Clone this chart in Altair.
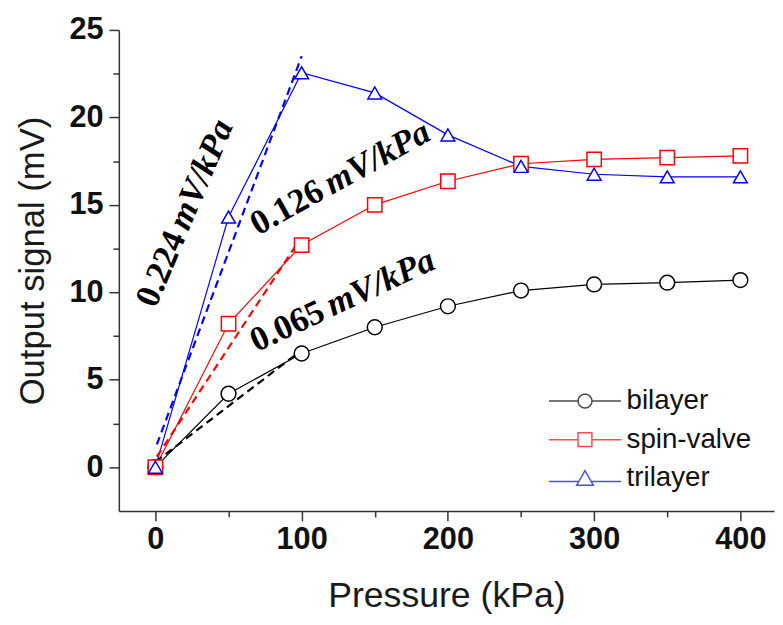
import math
import altair as alt
import pandas as pd

# ---------------- data ----------------
pressure = [0, 50, 100, 150, 200, 250, 300, 350, 400]
bilayer = [0.0, 4.2, 6.5, 8.0, 9.2, 10.1, 10.45, 10.55, 10.7]
spin_valve = [0.0, 8.2, 12.7, 15.0, 16.35, 17.35, 17.6, 17.7, 17.8]
trilayer = [0.0, 14.3, 22.55, 21.4, 19.0, 17.2, 16.75, 16.6, 16.6]

series_names = ["bilayer", "spin-valve", "trilayer"]
series_colors = ["#000000", "#ff0000", "#0000ff"]
series_shapes = ["circle", "square", "triangle-up"]
series_sizes = [225, 196, 272]

# linear-fit (dashed) segments: start and end of each
fit_series = ["bilayer", "bilayer", "spin-valve", "spin-valve", "trilayer", "trilayer"]
fit_pressure = [0, 97, 1, 97, 1, 100]
fit_signal = [0.3, 6.5, 0.6, 12.8, 1.3, 23.5]

# slope annotations
slope_numbers = ["0.224", "0.126", "0.065"]
slope_units = ["mV/kPa", "mV/kPa", "mV/kPa"]
number_pressure = [0.07, 70.2, 69.1]
number_signal = [9.04, 13.24, 6.57]
unit_pressure = [22.5, 120.6, 121.2]
unit_signal = [13.46, 15.57, 8.61]
label_angle = [293, 331, 335]

x_ticks = [0, 50, 100, 150, 200, 250, 300, 350, 400]
y_ticks = [0, 2.5, 5, 7.5, 10, 12.5, 15, 17.5, 20, 22.5, 25]

# ---------------- tables ----------------
rows = []
for name, vals in zip(series_names, [bilayer, spin_valve, trilayer]):
    for p, v in zip(pressure, vals):
        rows.append({"series": name, "pressure": p, "signal": v})
df = pd.DataFrame(rows)

fit_df = pd.DataFrame({"series": fit_series, "pressure": fit_pressure, "signal": fit_signal})
num_df = pd.DataFrame({"text": slope_numbers, "pressure": number_pressure,
                       "signal": number_signal, "angle": label_angle})
unit_df = pd.DataFrame({"text": slope_units, "pressure": unit_pressure,
                        "signal": unit_signal, "angle": label_angle})

# legend symbols: marker with line stubs (unit square -1..1 is the marker)
def circle_path(n=28):
    pts = [(math.cos(2 * math.pi * i / n), math.sin(2 * math.pi * i / n)) for i in range(n)]
    return "M" + "L".join(f"{x:.3f},{y:.3f}" for x, y in pts) + "Z"

legend_paths = [
    "M-5.2,0L-1,0M1,0L5.2,0" + circle_path(),
    "M-5.2,0L-1,0M1,0L5.2,0M-1,-1L1,-1L1,1L-1,1Z",
    "M-5.2,0.45L-0.8,0.45M0.8,0.45L5.2,0.45M0,-1.1L1.2,1L-1.2,1Z",
]

# ---------------- scales / axes ----------------
xscale = alt.Scale(domain=[-25, 423], nice=False, zero=False)
yscale = alt.Scale(domain=[-2.5, 25], nice=False, zero=False)
cscale = alt.Scale(domain=series_names, range=series_colors)

x_axis = alt.Axis(
    values=x_ticks,
    labelExpr="datum.value % 100 === 0 ? format(datum.value, 'd') : ''",
    tickSize={"condition": {"test": "datum.value % 100 === 0", "value": 10}, "value": 6},
    title="Pressure (kPa)", titleFont="Liberation Sans", titleFontSize=36,
    titleFontWeight="normal", titleColor="#1a1a1a", titleY=97, titleBaseline="alphabetic",
    labelFont="Liberation Sans", labelFontSize=31, labelFontWeight="bold",
    labelColor="#111111", labelPadding=4, labelOverlap=False, labelFlush=False,
    domainColor="#333333", domainWidth=1.5, tickColor="#333333", tickWidth=1.5, grid=False,
)
y_axis = alt.Axis(
    values=y_ticks,
    labelExpr="datum.value % 5 === 0 ? format(datum.value, 'd') : ''",
    tickSize={"condition": {"test": "datum.value % 5 === 0", "value": 10}, "value": 6},
    title="Output signal (mV)", titleFont="Liberation Sans", titleFontSize=35,
    titleFontWeight="normal", titleColor="#1a1a1a", titleAngle=270,
    titleX=-87, titleY=233, titleAlign="center", titleBaseline="middle",
    labelFont="Liberation Sans", labelFontSize=31, labelFontWeight="bold",
    labelColor="#111111", labelPadding=6, labelOverlap=False, labelFlush=False,
    domainColor="#333333", domainWidth=1.5, tickColor="#333333", tickWidth=1.5, grid=False,
)

X = alt.X("pressure:Q", scale=xscale, axis=x_axis)
Y = alt.Y("signal:Q", scale=yscale, axis=y_axis)

legend_kw = dict(title=None, orient="none", legendX=457, legendY=361,
                 labelFont="Liberation Sans", labelFontSize=28, labelColor="#111111",
                 symbolSize=196, symbolStrokeWidth=1.5, labelOffset=28,
                 rowPadding=11, padding=0)

lines = alt.Chart(df).mark_line(strokeWidth=1.2).encode(
    x=X, y=Y,
    color=alt.Color("series:N", scale=cscale, legend=None),
    detail="series:N",
)

fits = alt.Chart(fit_df).mark_line(strokeWidth=2.2, strokeDash=[8, 5]).encode(
    x=X, y=Y,
    color=alt.Color("series:N", scale=cscale, legend=None),
    detail="series:N",
)

points = alt.Chart(df).mark_point(filled=False, fill="white", fillOpacity=1,
                                   strokeWidth=1.5, opacity=1).encode(
    x=X, y=Y,
    color=alt.Color("series:N", scale=cscale, legend=None),
    shape=alt.Shape("series:N", scale=alt.Scale(domain=series_names, range=series_shapes),
                    legend=None),
    size=alt.Size("series:N", scale=alt.Scale(domain=series_names, range=series_sizes),
                  legend=None),
)

legend_layer = alt.Chart(df).transform_filter("false").mark_point(
    filled=False, strokeWidth=1.5).encode(
    x=X, y=Y,
    color=alt.Color("series:N", scale=cscale, legend=alt.Legend(**legend_kw)),
    shape=alt.Shape("series:N", scale=alt.Scale(domain=series_names, range=legend_paths),
                    legend=alt.Legend(**legend_kw)),
)

num_text = alt.Chart(num_df).mark_text(
    font="Liberation Serif", fontSize=35, fontWeight="bold", fontStyle="normal",
    align="left", baseline="alphabetic", color="#000000").encode(
    x=X, y=Y, text="text:N", angle=alt.Angle("angle:Q", scale=None))

unit_text = alt.Chart(unit_df).mark_text(
    font="Liberation Serif", fontSize=35, fontWeight="bold", fontStyle="italic",
    align="left", baseline="alphabetic", color="#000000").encode(
    x=X, y=Y, text="text:N", angle=alt.Angle("angle:Q", scale=None))

chart = alt.layer(lines, fits, points, legend_layer, num_text, unit_text).resolve_scale(
    color="independent", shape="independent"
).properties(
    width=662, height=486,
    autosize=alt.AutoSizeParams(type="none"),
    padding={"left": 112, "top": 19, "right": 1, "bottom": 104},
    background="white",
).configure_view(stroke=None)

chart.save("out.html", embed_options={"renderer": "svg", "actions": False})
